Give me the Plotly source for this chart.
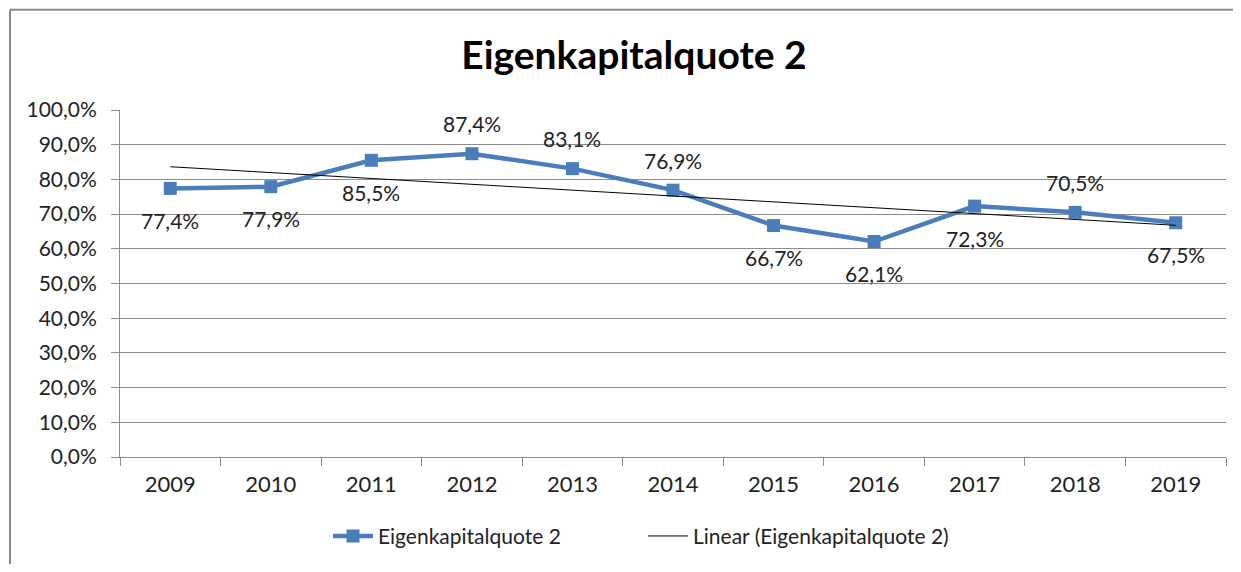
import numpy as np
import plotly.graph_objects as go

years = ["2009", "2010", "2011", "2012", "2013", "2014", "2015", "2016", "2017", "2018", "2019"]
values = [77.4, 77.9, 85.5, 87.4, 83.1, 76.9, 66.7, 62.1, 72.3, 70.5, 67.5]
label_side = ["below", "below", "below", "above", "above", "above", "below", "below", "below", "above", "below"]
y_ticks = [0, 10, 20, 30, 40, 50, 60, 70, 80, 90, 100]

FONT = "Lato"
BLUE = "#4a7ebb"
GREY = "#8c8c8c"
TXT = "#222222"

idx = np.arange(len(values))
slope, intercept = np.polyfit(idx, values, 1)
trend = slope * idx + intercept

fig = go.Figure()
fig.add_trace(go.Scatter(
    x=years, y=values, mode="lines+markers", name="Eigenkapitalquote 2",
    line=dict(color=BLUE, width=4.5),
    marker=dict(symbol="square", size=13, color=BLUE),
))
fig.add_trace(go.Scatter(
    x=years, y=trend, mode="lines", name="Linear (Eigenkapitalquote 2)",
    line=dict(color="black", width=1),
))

for i, (v, side) in enumerate(zip(values, label_side)):
    fig.add_annotation(
        x=i, y=v, xref="x", yref="y", text=f"{v:.1f}%".replace(".", ","), showarrow=False,
        yshift=30 if side == "above" else -32,
        font=dict(family=FONT, size=21, color=TXT),
    )

# page offset of 8px: figure coordinates = screen - 8
W, H = 1225, 556
ml, mr, mt, mb = 112, 7, 102, 104
pw, ph = W - ml - mr, H - mt - mb
def px2x(p):
    return (p - ml) / pw
def py2y(p):
    return (H - mb - p) / ph

# outer chart border (only left and top edges visible)
fig.add_shape(type="line", xref="paper", yref="paper",
              x0=px2x(2), x1=px2x(2), y0=py2y(1), y1=py2y(H + 10),
              line=dict(color=GREY, width=2), layer="below")
fig.add_shape(type="line", xref="paper", yref="paper",
              x0=px2x(2), x1=px2x(W + 10), y0=py2y(1), y1=py2y(1),
              line=dict(color=GREY, width=2), layer="below")

fig.update_layout(
    width=W, height=H,
    margin=dict(l=ml, r=mr, t=mt, b=mb),
    paper_bgcolor="white", plot_bgcolor="white",
    separators=",.",
    font=dict(family=FONT, size=21, color=TXT),
    title=dict(text="<b>Eigenkapitalquote 2</b>", x=626 / W, xanchor="center",
               y=1 - 47 / H, yanchor="middle", font=dict(family=FONT, size=39, color="black")),
    showlegend=True,
    legend=dict(orientation="h", x=px2x(635), xanchor="center", y=py2y(532), yanchor="middle",
                font=dict(family=FONT, size=21, color=TXT), itemwidth=40,
                tracegroupgap=0, entrywidth=260),
    xaxis=dict(type="category", tickson="boundaries", ticks="outside", ticklen=8,
               tickcolor=GREY, showline=True, linecolor=GREY, linewidth=1,
               showgrid=False, range=[-0.5, 10.5], tickfont=dict(size=22),
               ticklabelstandoff=8),
    yaxis=dict(range=[0, 100], tickvals=y_ticks,
               ticktext=[f"{t:.1f}%".replace(".", ",") for t in y_ticks],
               ticks="outside", ticklen=8, tickcolor=GREY, showline=True, linecolor=GREY,
               showgrid=True, gridcolor=GREY, gridwidth=1, zeroline=False,
               tickfont=dict(size=21), ticklabelstandoff=10),
)

fig.write_html("out.html", config={"displayModeBar": False})
